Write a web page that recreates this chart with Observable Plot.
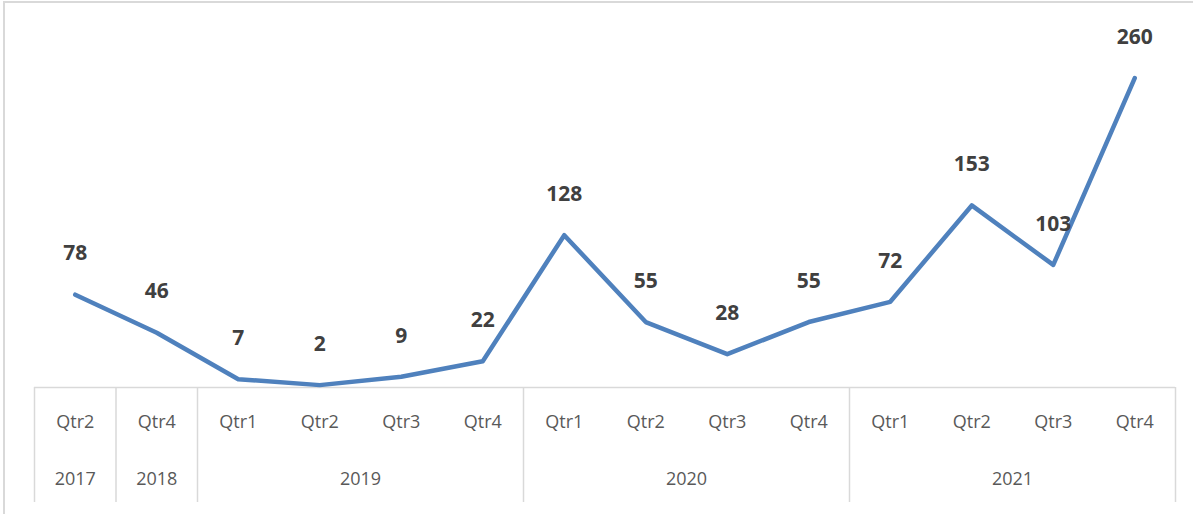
<!DOCTYPE html>
<html><head><meta charset="utf-8">
<script src="https://cdn.jsdelivr.net/npm/d3@7"></script>
<script src="https://cdn.jsdelivr.net/npm/@observablehq/plot@0.6"></script>
<style>
body{margin:0;background:#fff;}
#wrap{position:relative;width:1193px;height:514px;overflow:hidden;}
#border{position:absolute;left:3px;top:1px;width:1300px;height:600px;border:2px solid #d9d9d9;box-sizing:border-box;}
#chart{position:absolute;left:0;top:0;}
</style></head><body>
<div id="wrap"><div id="border"></div><div id="chart"></div></div>
<script>
const quarters = ["Qtr2","Qtr4","Qtr1","Qtr2","Qtr3","Qtr4","Qtr1","Qtr2","Qtr3","Qtr4","Qtr1","Qtr2","Qtr3","Qtr4"];
const years = ["2017","2018","2019","2019","2019","2019","2020","2020","2020","2020","2021","2021","2021","2021"];
const values = [78,46,7,2,9,22,128,55,28,55,72,153,103,260];

const n = values.length;
const rows = values.map((v, i) => ({i, q: quarters[i], year: years[i], value: v}));
const groups = [];
years.forEach((y, i) => {
  const g = groups[groups.length - 1];
  if (g && g.year === y) g.end = i; else groups.push({year: y, start: i, end: i});
});
const bounds = [groups[0].start - 0.5, ...groups.map(g => g.end + 0.5)];

const grid = "#d9d9d9";
const chart = Plot.plot({
  width: 1193, height: 514,
  marginLeft: 34, marginRight: 18, marginTop: 30, marginBottom: 127,
  x: {type: "linear", domain: [-0.5, n - 0.5], axis: null},
  y: {domain: [0, 300], axis: null},
  style: {fontFamily: "'Open Sans', sans-serif", background: "transparent"},
  marks: [
    Plot.ruleY([0], {x1: () => bounds[0], x2: () => bounds[bounds.length - 1], stroke: grid, strokeWidth: 1.5}),
    Plot.ruleX(bounds, {x: d => d, y1: () => 0, y2: () => 0, insetBottom: -115, stroke: grid, strokeWidth: 1.5}),
    Plot.text(rows, {x: "i", y: () => 0, text: "q", dy: 35, fontSize: 18, fill: "#595959"}),
    Plot.text(groups, {x: d => (d.start + d.end) / 2, y: () => 0, text: "year", dy: 92, fontSize: 18, fill: "#595959"}),
    Plot.line(rows, {x: "i", y: "value", stroke: "#4f81bd", strokeWidth: 4.5, strokeLinecap: "round", strokeLinejoin: "round"}),
    Plot.text(rows, {x: "i", y: "value", text: d => String(d.value), dy: -41, fontSize: 21, fontWeight: "bold", fill: "#404040"})
  ]
});
document.getElementById("chart").appendChild(chart);
</script>
</body></html>
